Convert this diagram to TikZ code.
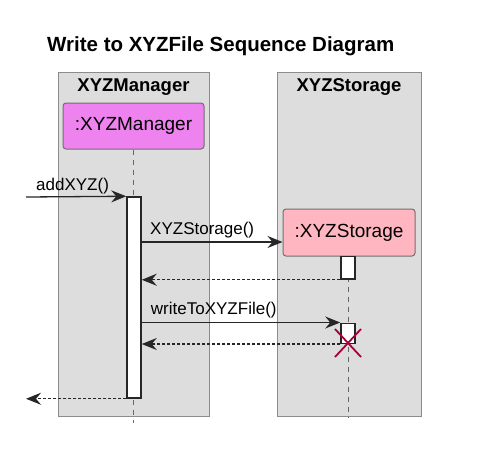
\documentclass[tikz,border=0pt]{standalone}
\usepackage{fontspec}
\setmainfont{Liberation Sans}
\usetikzlibrary{arrows.meta, positioning, calc}
\definecolor{boxgray}{HTML}{DDDDDD}
\definecolor{boxline}{HTML}{8C8C8C}
\definecolor{partline}{HTML}{707070}
\definecolor{mgrfill}{HTML}{EE82EE}
\definecolor{storfill}{HTML}{FFB6C1}
\definecolor{crossred}{HTML}{A80036}
\tikzset{
    >={Stealth[length=15pt, width=12pt, inset=5pt]}, % arrow heads like the sequence tool
    groupbox/.style={draw=boxline, fill=boxgray, line width=1.2pt, anchor=north west},
    header/.style={font=\fontsize{18.5}{20}\selectfont\bfseries},
    participant/.style={draw=partline, line width=1pt, rounded corners=3pt, font=\fontsize{19}{21}\selectfont},
    lifeline/.style={draw=black!60, line width=1pt, dash pattern=on 5pt off 5pt},
    actbar/.style={draw=black!85, fill=white, line width=1.5pt, minimum width=14pt, inner sep=0pt},
    msg/.style={draw=black!85, line width=1.3pt, ->},
    reply/.style={draw=black!85, line width=1.3pt, ->, dash pattern=on 3pt off 2pt},
    msglabel/.style={font=\fontsize{17}{19}\selectfont, anchor=base west, inner sep=0pt},
}
\begin{document}
\begin{tikzpicture}[x=1pt, y=-1pt]
    \useasboundingbox (0,0) rectangle (500,448);

    % Titel
    \node[font=\fontsize{20.5}{23}\selectfont\bfseries, anchor=base west, inner sep=0pt] (title) at (47,51) {Write to XYZFile Sequence Diagram};

    % Boxen
    \node[groupbox, minimum width=151pt, minimum height=344pt] (mgrgrp) at (58,72) {};
    \node[groupbox, minimum width=144pt, minimum height=344pt] (storgrp) at (277,72) {};
    \node[header] (mgrhead) at (133.5,87) {XYZManager};
    \node[header] (storhead) at (349,87) {XYZStorage};

    % Teilnehmer
    \node[participant, fill=mgrfill, minimum width=141pt, minimum height=46pt] (mgr) at (133.5,126) {:XYZManager};
    \node[participant, fill=storfill, minimum width=132pt, minimum height=47pt] (stor) at (349,232.5) {:XYZStorage};
    \coordinate (mgrend) at (133,423);
    \coordinate (storend) at (348,417);
    \draw[lifeline] (mgr.south -| mgrend) -- (mgrend);
    \draw[lifeline] (stor.south -| storend) -- (storend);

    % Aktivierungen
    \node[actbar, minimum height=201pt] (act1) at (134,297.5) {};
    \node[actbar, minimum height=22.5pt] (act2a) at (348,267.75) {};
    \node[actbar, minimum height=20pt] (act2b) at (348,333.25) {};

    % Nachrichten
    \coordinate (in) at (26,197);
    \coordinate (m2) at (141,242);
    \draw[msg] (in) -- (act1.north west);
    \node[msglabel] (l1) at ($(in)+(10,-7)$) {addXYZ()};
    \draw[msg] (m2) -- (m2 -| stor.west);
    \node[msglabel] (l2) at ($(m2)+(9,-8)$) {XYZStorage()};
    \draw[reply] (act2a.south west) -- (act2a.south west -| act1.east);
    \draw[msg] (act2b.north west -| act1.east) -- (act2b.north west);
    \node[msglabel] (l3) at ($(act2b.north west -| act1.east)+(9,-8)$) {writeToXYZFile()};
    \draw[reply] (act2b.south west) -- (act2b.south west -| act1.east);
    \draw[reply] (act1.south west) -- (act1.south west -| in);

    % Zerstoerung
    \coordinate (kill) at (348,343);
    \draw[crossred, line width=1.8pt] ($(kill)+(-13,-14)$) -- ($(kill)+(13,14)$)
                                     ($(kill)+(-13,14)$) -- ($(kill)+(13,-14)$);
\end{tikzpicture}
\end{document}
